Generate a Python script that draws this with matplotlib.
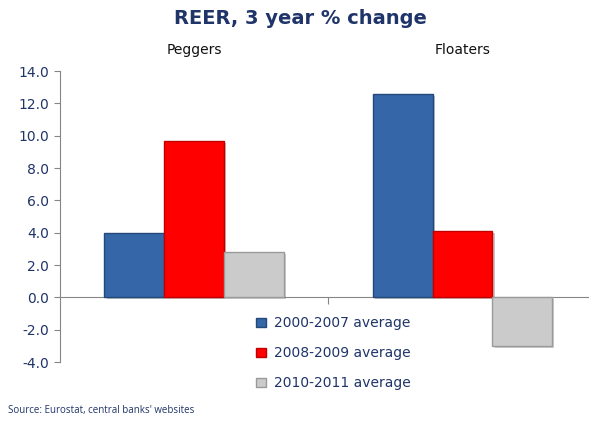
import matplotlib
matplotlib.use("Agg")
import matplotlib.pyplot as plt
import matplotlib.patheffects as pe
from matplotlib.patches import Patch
import numpy as np

groups = ["Peggers", "Floaters"]
periods = ["2000-2007 average", "2008-2009 average", "2010-2011 average"]
values = {
    "2000-2007 average": [4.0, 12.6],
    "2008-2009 average": [9.7, 4.1],
    "2010-2011 average": [2.8, -3.0],
}
face = ["#3566A8", "#FF0000", "#CBCBCB"]
edge = ["#24487A", "#C00000", "#9A9A9A"]
yticks = np.arange(-4, 14.1, 2)

navy = "#1F3468"

fig = plt.figure(figsize=(5.89, 4.23), dpi=100)
ax = fig.add_axes([0.102, 0.144, 0.896, 0.688])

x = np.arange(len(groups))
w = 0.223
shadow = [pe.SimplePatchShadow(offset=(1.5, -1.5), alpha=0.25), pe.Normal()]
for i, p in enumerate(periods):
    bars = ax.bar(x + (i - 1) * w, values[p], w, color=face[i], edgecolor=edge[i],
                  linewidth=1.0, zorder=3)
    for b in bars:
        b.set_path_effects(shadow)

ax.set_xlim(-0.5, 1.467)
ax.set_ylim(-4, 14)
ax.set_yticks(yticks)
ax.set_yticklabels([f"{v:.1f}" for v in yticks], color=navy, fontsize=10)
ax.tick_params(axis="y", length=4, color="#868686", pad=4)

# category axis drawn at zero with a single divider tick between groups
ax.spines["bottom"].set_position(("data", 0))
for s in ["top", "right"]:
    ax.spines[s].set_visible(False)
for s in ["left", "bottom"]:
    ax.spines[s].set_color("#868686")
ax.set_xticks([0.5])
ax.set_xticklabels([""])
ax.tick_params(axis="x", length=5, color="#868686", direction="out")

for xi, g in zip(x, groups):
    ax.text(xi, 1.072, g, transform=ax.get_xaxis_transform(), ha="center",
            va="center", fontsize=10, color="#111111")

fig.text(0.51, 0.957, "REER, 3 year % change", ha="center", va="center",
         fontsize=14, fontweight="bold", color=navy)

handles = [Patch(facecolor=face[i], edgecolor=edge[i]) for i in range(3)]
ax.legend(handles, periods, loc="upper left", bbox_to_anchor=(0.425, 0.265),
          bbox_transform=fig.transFigure, frameon=False, fontsize=10,
          labelcolor=navy, handlelength=0.7, handleheight=0.7,
          handletextpad=0.6, labelspacing=1.15, borderaxespad=0)

fig.text(0.014, 0.03, "Source: Eurostat, central banks' websites",
         fontsize=7, color=navy, fontfamily="Open Sans", va="center")

fig.savefig("out.png", dpi=100)
